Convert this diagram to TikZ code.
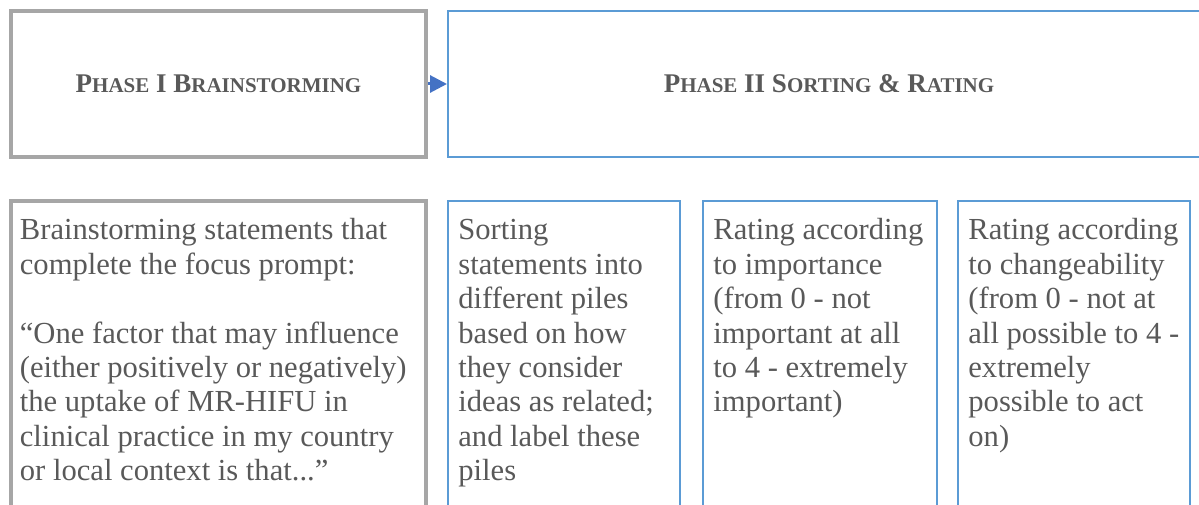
\documentclass[tikz,border=0pt]{standalone}
\usepackage{fontspec}
\setmainfont{Liberation Serif}
\usetikzlibrary{positioning,arrows.meta}

\definecolor{boxgray}{HTML}{A6A6A6}
\definecolor{boxblue}{HTML}{5B9BD5}
\definecolor{arrowblue}{HTML}{4472C4}
\definecolor{txtgray}{HTML}{595959}

% fake small caps for the bold phase headings
\newcommand{\scpart}[1]{{\fontsize{10.5}{12}\selectfont #1}}

\begin{document}
\begin{tikzpicture}[font=\fontsize{15.3}{17.2}\selectfont, text=txtgray,
    graybox/.style = {draw=boxgray, line width=2pt, rectangle, minimum width=207.5pt},
    bluebox/.style = {draw=boxblue, line width=1pt, rectangle},
    head/.style = {font=\fontsize{13.5}{16}\selectfont\bfseries, minimum height=73pt},
    tall/.style = {minimum height=159.5pt},
    note/.style = {anchor=north west, align=left, inner sep=0pt}]
    \useasboundingbox (0,0) rectangle (599.5pt,252pt);
    \clip (0,0) rectangle (599.5pt,252pt);
                \node[graybox, head] (p1) at (109.25pt,210pt) {P\scpart{HASE} I B\scpart{RAINSTORMING}};
                \node[bluebox, head, minimum width=381pt] (p2) [right=9.5pt of p1] {P\scpart{HASE} II S\scpart{ORTING} \& R\scpart{ATING}};
                \node[graybox, tall] (s1) [below=20pt of p1] {};
                \node[bluebox, tall, minimum width=116pt] (s2) [right=9.5pt of s1] {};
                \node[bluebox, tall, minimum width=117pt] (s3) [right=10.5pt of s2] {};
                \node[bluebox, tall, minimum width=116pt] (s4) [right=9.5pt of s3] {};
                \draw[arrowblue, line width=1.5pt, -{Triangle[length=8.5pt, width=8.5pt]}] (p1) -- (p2);
                % step descriptions
                \node[note, below right=8.25pt and 5.25pt of s1.north west] (n1) {\strut Brainstorming statements that\\complete the focus prompt:\\[17.2pt]“One factor that may influence\\(either positively or negatively)\\the uptake of MR-HIFU in\\clinical practice in my country\\or local context is that...”};
                \node[note, below right=7.75pt and 5.5pt of s2.north west] (n2) {\strut Sorting\\statements into\\different piles\\based on how\\they consider\\ideas as related;\\and label these\\piles};
                \node[note, below right=7.75pt and 5.5pt of s3.north west] (n3) {\strut Rating according\\to importance\\(from 0 - not\\important at all\\to 4 - extremely\\important)};
                \node[note, below right=7.75pt and 5.5pt of s4.north west] (n4) {\strut Rating according\\to changeability\\(from 0 - not at\\all possible to 4 -\\extremely\\possible to act\\on)};
            \end{tikzpicture}
\end{document}
